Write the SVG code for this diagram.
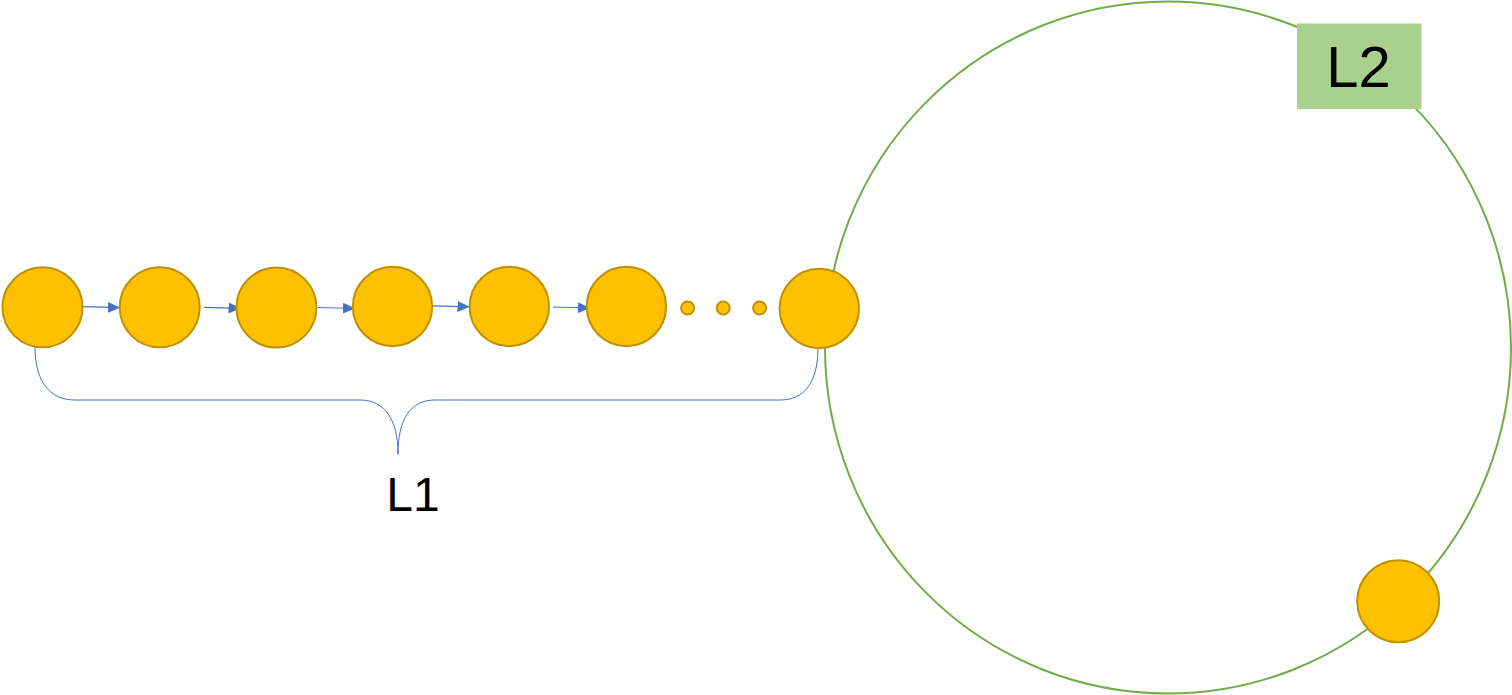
<svg xmlns="http://www.w3.org/2000/svg" width="1512" height="695" viewBox="0 0 1512 695">
  <style>
    .node { fill: #FFC000; stroke: #BF9000; stroke-width: 2; }
    .ring { fill: none; stroke: #70AD47; stroke-width: 2; }
    .edge { fill: none; stroke: #4472C4; stroke-width: 1.2; }
    .brace { fill: none; stroke: #4472C4; stroke-width: 1; }
    .label { font-family: "Liberation Sans", Arial, sans-serif; fill: #000; text-anchor: middle; }
  </style>
  <defs>
    <marker id="arr" markerUnits="userSpaceOnUse" markerWidth="12" markerHeight="11" refX="12" refY="5.5" orient="auto">
      <path d="M0,0 L12,5.5 L0,11 Z" fill="#4472C4"/>
    </marker>
  </defs>
  <rect width="1512" height="695" fill="#fff"/>
  <g id="ring-L2">
    <ellipse class="ring" cx="1168" cy="347.5" rx="343" ry="346"/>
  </g>
  <g id="connectors">
    <path class="edge" d="M83,306.7 L120,307.7" marker-end="url(#arr)"/>
    <path class="edge" d="M204,307.3 L240.5,308.3" marker-end="url(#arr)"/>
    <path class="edge" d="M318,307.5 L355,308.5" marker-end="url(#arr)"/>
    <path class="edge" d="M433,305.8 L469.5,306.8" marker-end="url(#arr)"/>
    <path class="edge" d="M553,307 L590,308" marker-end="url(#arr)"/>
    <path class="brace" d="M35,347 C35,382 50,400 75,400 L360,400 C385,400 398,420 398,454 C398,420 410,400 435,400 L780,400 C805,400 818,382 818,347"/>
  </g>
  <g id="n1"><circle class="node" cx="42.5" cy="307.3" r="40"/></g>
  <g id="n2"><circle class="node" cx="159.7" cy="307.3" r="40"/></g>
  <g id="n3"><circle class="node" cx="276.4" cy="307.6" r="40"/></g>
  <g id="n4"><circle class="node" cx="392.5" cy="306.5" r="39.7"/></g>
  <g id="n5"><circle class="node" cx="509.3" cy="306.5" r="39.7"/></g>
  <g id="n6"><circle class="node" cx="626.4" cy="306.5" r="39.7"/></g>
  <g id="d1"><circle class="node" cx="687.6" cy="308" r="6.5" stroke-width="1.5"/></g>
  <g id="d2"><circle class="node" cx="723.2" cy="308" r="6.5" stroke-width="1.5"/></g>
  <g id="d3"><circle class="node" cx="759.6" cy="308" r="6.5" stroke-width="1.5"/></g>
  <g id="n7"><circle class="node" cx="819.3" cy="308.5" r="39.7"/></g>
  <g id="n8"><circle class="node" cx="1398.2" cy="601.2" r="41"/></g>
  <g id="label-L1">
    <text class="label" x="413" y="511" font-size="48">L1</text>
  </g>
  <g id="label-L2">
    <rect x="1297" y="23.5" width="124.5" height="85.5" fill="#A9D18E"/>
    <text class="label" x="1358.5" y="87" font-size="58">L2</text>
  </g>
</svg>
